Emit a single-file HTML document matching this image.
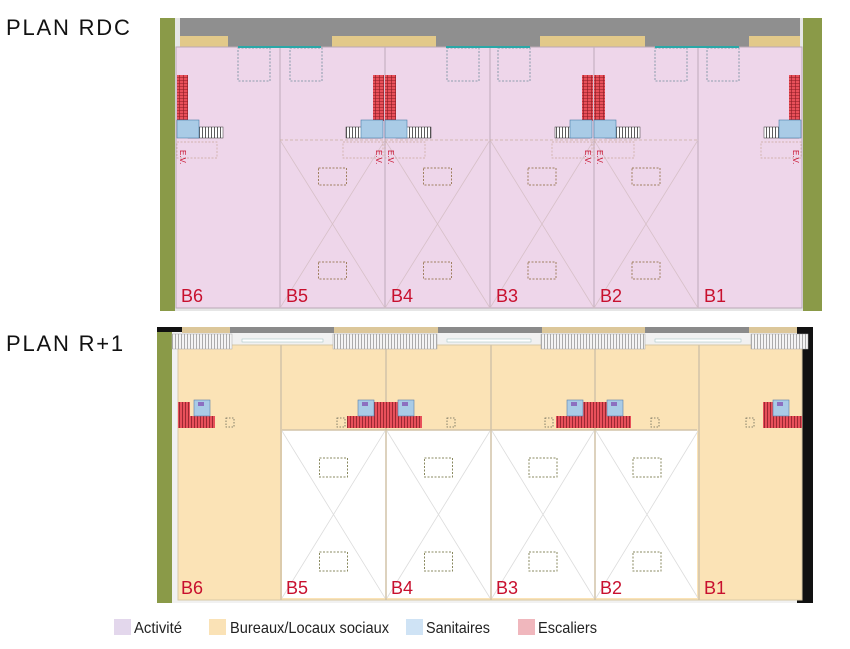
<!DOCTYPE html>
<html><head><meta charset="utf-8"><style>
html,body{margin:0;padding:0;background:#fff;width:850px;height:649px;overflow:hidden}
svg{display:block}
.t{font-family:"Liberation Sans",sans-serif}
</style></head><body>
<svg id="s" width="850" height="649" viewBox="0 0 850 649" xmlns="http://www.w3.org/2000/svg">
<defs>
<pattern id="rs" width="4" height="3" patternUnits="userSpaceOnUse"><rect width="4" height="3" fill="#e8505a"/><path d="M0 2.5H4M3.5 0V3" stroke="#8a1a22" stroke-width="0.6"/></pattern>
<pattern id="rv" width="3" height="4" patternUnits="userSpaceOnUse"><rect width="3" height="4" fill="#e8505a"/><path d="M2.5 0V4" stroke="#7a1820" stroke-width="0.7"/></pattern>
<pattern id="rail" width="3" height="10" patternUnits="userSpaceOnUse"><rect width="3" height="10" fill="#fff"/><path d="M1.5 0V10" stroke="#333" stroke-width="0.8"/></pattern>
<pattern id="grail" width="3" height="10" patternUnits="userSpaceOnUse"><rect width="3" height="10" fill="#f4f4f4"/><path d="M1.5 0V10" stroke="#999" stroke-width="0.8"/></pattern>
</defs>
<text class="t" x="6" y="35" font-size="22" letter-spacing="1.8" fill="#111">PLAN RDC</text>
<text class="t" x="6" y="351" font-size="22" letter-spacing="1.8" fill="#111">PLAN R+1</text>

<!-- TOP PLAN -->
<rect x="160" y="18" width="662" height="293" fill="#8a9a48"/>
<rect x="175" y="18" width="628" height="293" fill="#e6e6e6"/>
<rect x="180" y="18" width="620" height="18" fill="#8f8f8f"/>
<rect x="180" y="36" width="620" height="11" fill="#e2c98a"/>
<rect x="228" y="18" width="104" height="29" fill="#8f8f8f"/>
<rect x="436" y="18" width="104" height="29" fill="#8f8f8f"/>
<rect x="645" y="18" width="104" height="29" fill="#8f8f8f"/>
<rect x="176" y="47" width="626" height="261" fill="#eed6ea" stroke="#b9a8b5"/>
<g id="topg"></g>
<g class="t" font-size="18" fill="#c8102e">
<text x="181" y="302">B6</text><text x="286" y="302">B5</text><text x="391" y="302">B4</text>
<text x="496" y="302">B3</text><text x="600" y="302">B2</text><text x="704" y="302">B1</text></g>

<!-- BOTTOM PLAN -->
<rect x="157" y="327" width="656" height="276" fill="#8a9a48"/>
<rect x="172" y="327" width="636" height="276" fill="#f1f1f1"/>
<rect x="797" y="327" width="16" height="276" fill="#111"/>
<rect x="157" y="327" width="25" height="5" fill="#111"/>
<rect x="182" y="327" width="615" height="6" fill="#dcc79a"/>
<rect x="230" y="327" width="104" height="6" fill="#8a8a8a"/>
<rect x="438" y="327" width="104" height="6" fill="#8a8a8a"/>
<rect x="645" y="327" width="104" height="6" fill="#8a8a8a"/>
<rect x="178" y="345" width="624" height="255" fill="#fbe3b6" stroke="#d8c9a5"/>
<g id="botg"></g>
<g class="t" font-size="18" fill="#c8102e">
<text x="181" y="594">B6</text><text x="286" y="594">B5</text><text x="391" y="594">B4</text>
<text x="496" y="594">B3</text><text x="600" y="594">B2</text><text x="704" y="594">B1</text></g>

<!-- LEGEND -->
<rect x="114" y="619" width="17" height="16" fill="#e3d7ec"/>
<text class="t" x="134" y="633" font-size="16" fill="#222" textLength="48" lengthAdjust="spacingAndGlyphs">Activité</text>
<rect x="209" y="619" width="17" height="16" fill="#fae2b6"/>
<text class="t" x="230" y="633" font-size="16" fill="#222" textLength="159" lengthAdjust="spacingAndGlyphs">Bureaux/Locaux sociaux</text>
<rect x="406" y="619" width="17" height="16" fill="#cfe3f5"/>
<text class="t" x="426" y="633" font-size="16" fill="#222" textLength="64" lengthAdjust="spacingAndGlyphs">Sanitaires</text>
<rect x="518" y="619" width="17" height="16" fill="#f0b7bd"/>
<text class="t" x="538" y="633" font-size="16" fill="#222" textLength="59" lengthAdjust="spacingAndGlyphs">Escaliers</text>
</svg>
<script>
var NS="http://www.w3.org/2000/svg";
function el(p,n,a){var e=document.createElementNS(NS,n);for(var k in a)e.setAttribute(k,a[k]);p.appendChild(e);return e;}
var T=document.getElementById("topg"),B=document.getElementById("botg");
var xs=[175,280,385,490,594,698,802];
for(var i=1;i<6;i++){el(T,"line",{x1:xs[i],y1:47,x2:xs[i],y2:308,stroke:"#c6b2c2","stroke-width":1.2});}
for(var i=1;i<5;i++){var a=xs[i],b=xs[i+1];
 el(T,"path",{d:"M"+a+" 140L"+b+" 308M"+b+" 140L"+a+" 308",stroke:"#d7c0c8","stroke-width":0.8,fill:"none"});
 el(T,"line",{x1:a,y1:140,x2:b,y2:140,stroke:"#c9ae9e","stroke-width":0.8,"stroke-dasharray":"3 2"});
 var c=(a+b)/2;
 el(T,"rect",{x:c-14,y:168,width:28,height:17,fill:"none",stroke:"#a08060","stroke-dasharray":"2 1.5"});
 el(T,"rect",{x:c-14,y:262,width:28,height:17,fill:"none",stroke:"#a08060","stroke-dasharray":"2 1.5"});
}
[[238,48],[290,48],[447,48],[498,48],[655,48],[707,48]].forEach(function(p){
 el(T,"rect",{x:p[0],y:p[1],width:32,height:33,fill:"none",stroke:"#6f8a9a","stroke-dasharray":"2 1.5","stroke-width":0.8});});
[[228,331],[436,540],[645,749]].forEach(function(p){el(T,"rect",{x:p[0]+10,y:46,width:p[1]-p[0]-20,height:2,fill:"#2aa8a8"});});
function tstair(xr,xb,xrail,flip){
 el(T,"rect",{x:xr,y:75,width:11,height:46,fill:"url(#rs)"});
 el(T,"rect",{x:xrail,y:127,width:35,height:11,fill:"url(#rail)",stroke:"#333","stroke-width":0.5});
 el(T,"rect",{x:xb,y:120,width:22,height:18,fill:"#a9cbe6",stroke:"#4b7ea8","stroke-width":0.6});
 el(T,"rect",{x:flip?xb-18:xb,y:142,width:40,height:16,fill:"none",stroke:"#c9a89a","stroke-dasharray":"2 1.5","stroke-width":0.7});
}
tstair(177,177,188,false);
tstair(373,361,346,true);tstair(385,385,396,false);
tstair(582,570,555,true);tstair(594,594,605,false);
tstair(789,779,764,true);
[[180,150],[376,150],[388,150],[585,150],[597,150],[793,150]].forEach(function(p){var t=el(T,"text",{x:p[0],y:p[1],"font-size":8,fill:"#c8102e","font-family":"Liberation Sans",transform:"rotate(90 "+p[0]+" "+p[1]+")"});t.textContent="E.V.";});
// BOTTOM
el(B,"rect",{x:282,y:430,width:415,height:168,fill:"#fff"});
for(var i=1;i<6;i++){el(B,"line",{x1:xs[i]+1,y1:345,x2:xs[i]+1,y2:600,stroke:"#d2c3a8","stroke-width":1.5});}
el(B,"line",{x1:282,y1:430,x2:697,y2:430,stroke:"#d2c3a8","stroke-width":1.5});
for(var i=1;i<5;i++){var a=xs[i]+2,b=xs[i+1];
 el(B,"path",{d:"M"+a+" 431L"+b+" 598M"+b+" 431L"+a+" 598",stroke:"#dcdcdc","stroke-width":0.8,fill:"none"});
 var c=(a+b)/2;
 el(B,"rect",{x:c-14,y:458,width:28,height:19,fill:"none",stroke:"#8a8a60","stroke-dasharray":"2 1.5"});
 el(B,"rect",{x:c-14,y:552,width:28,height:19,fill:"none",stroke:"#8a8a60","stroke-dasharray":"2 1.5"});
}
[[172,232],[333,437],[541,645],[751,808]].forEach(function(p){el(B,"rect",{x:p[0],y:334,width:p[1]-p[0],height:15,fill:"url(#grail)",stroke:"#aaa","stroke-width":0.5});});
[[232,333],[437,541],[645,751]].forEach(function(p){el(B,"rect",{x:p[0]+10,y:339,width:p[1]-p[0]-20,height:3,fill:"#fff",stroke:"#9bb","stroke-width":0.5});});
function bstair(xb,xr,xl,wl){
 el(B,"rect",{x:xr,y:402,width:12,height:26,fill:"url(#rv)"});
 el(B,"rect",{x:xl,y:416,width:wl,height:12,fill:"url(#rv)"});
 el(B,"rect",{x:xb,y:400,width:16,height:16,fill:"#a9cbe6",stroke:"#5a7fa8","stroke-width":0.6});
 el(B,"rect",{x:xb+4,y:402,width:6,height:4,fill:"#8c6fc0"});
}
bstair(194,178,178,37);
bstair(358,374,347,39);bstair(398,386,386,36);
bstair(567,583,556,39);bstair(607,595,595,36);
bstair(773,763,765,37);
[[230,423],[341,423],[451,423],[549,423],[655,423],[750,423]].forEach(function(p){el(B,"rect",{x:p[0]-4,y:p[1]-5,width:8,height:9,fill:"none",stroke:"#665","stroke-dasharray":"1.5 1.5","stroke-width":0.8});});
</script>
</body></html>
